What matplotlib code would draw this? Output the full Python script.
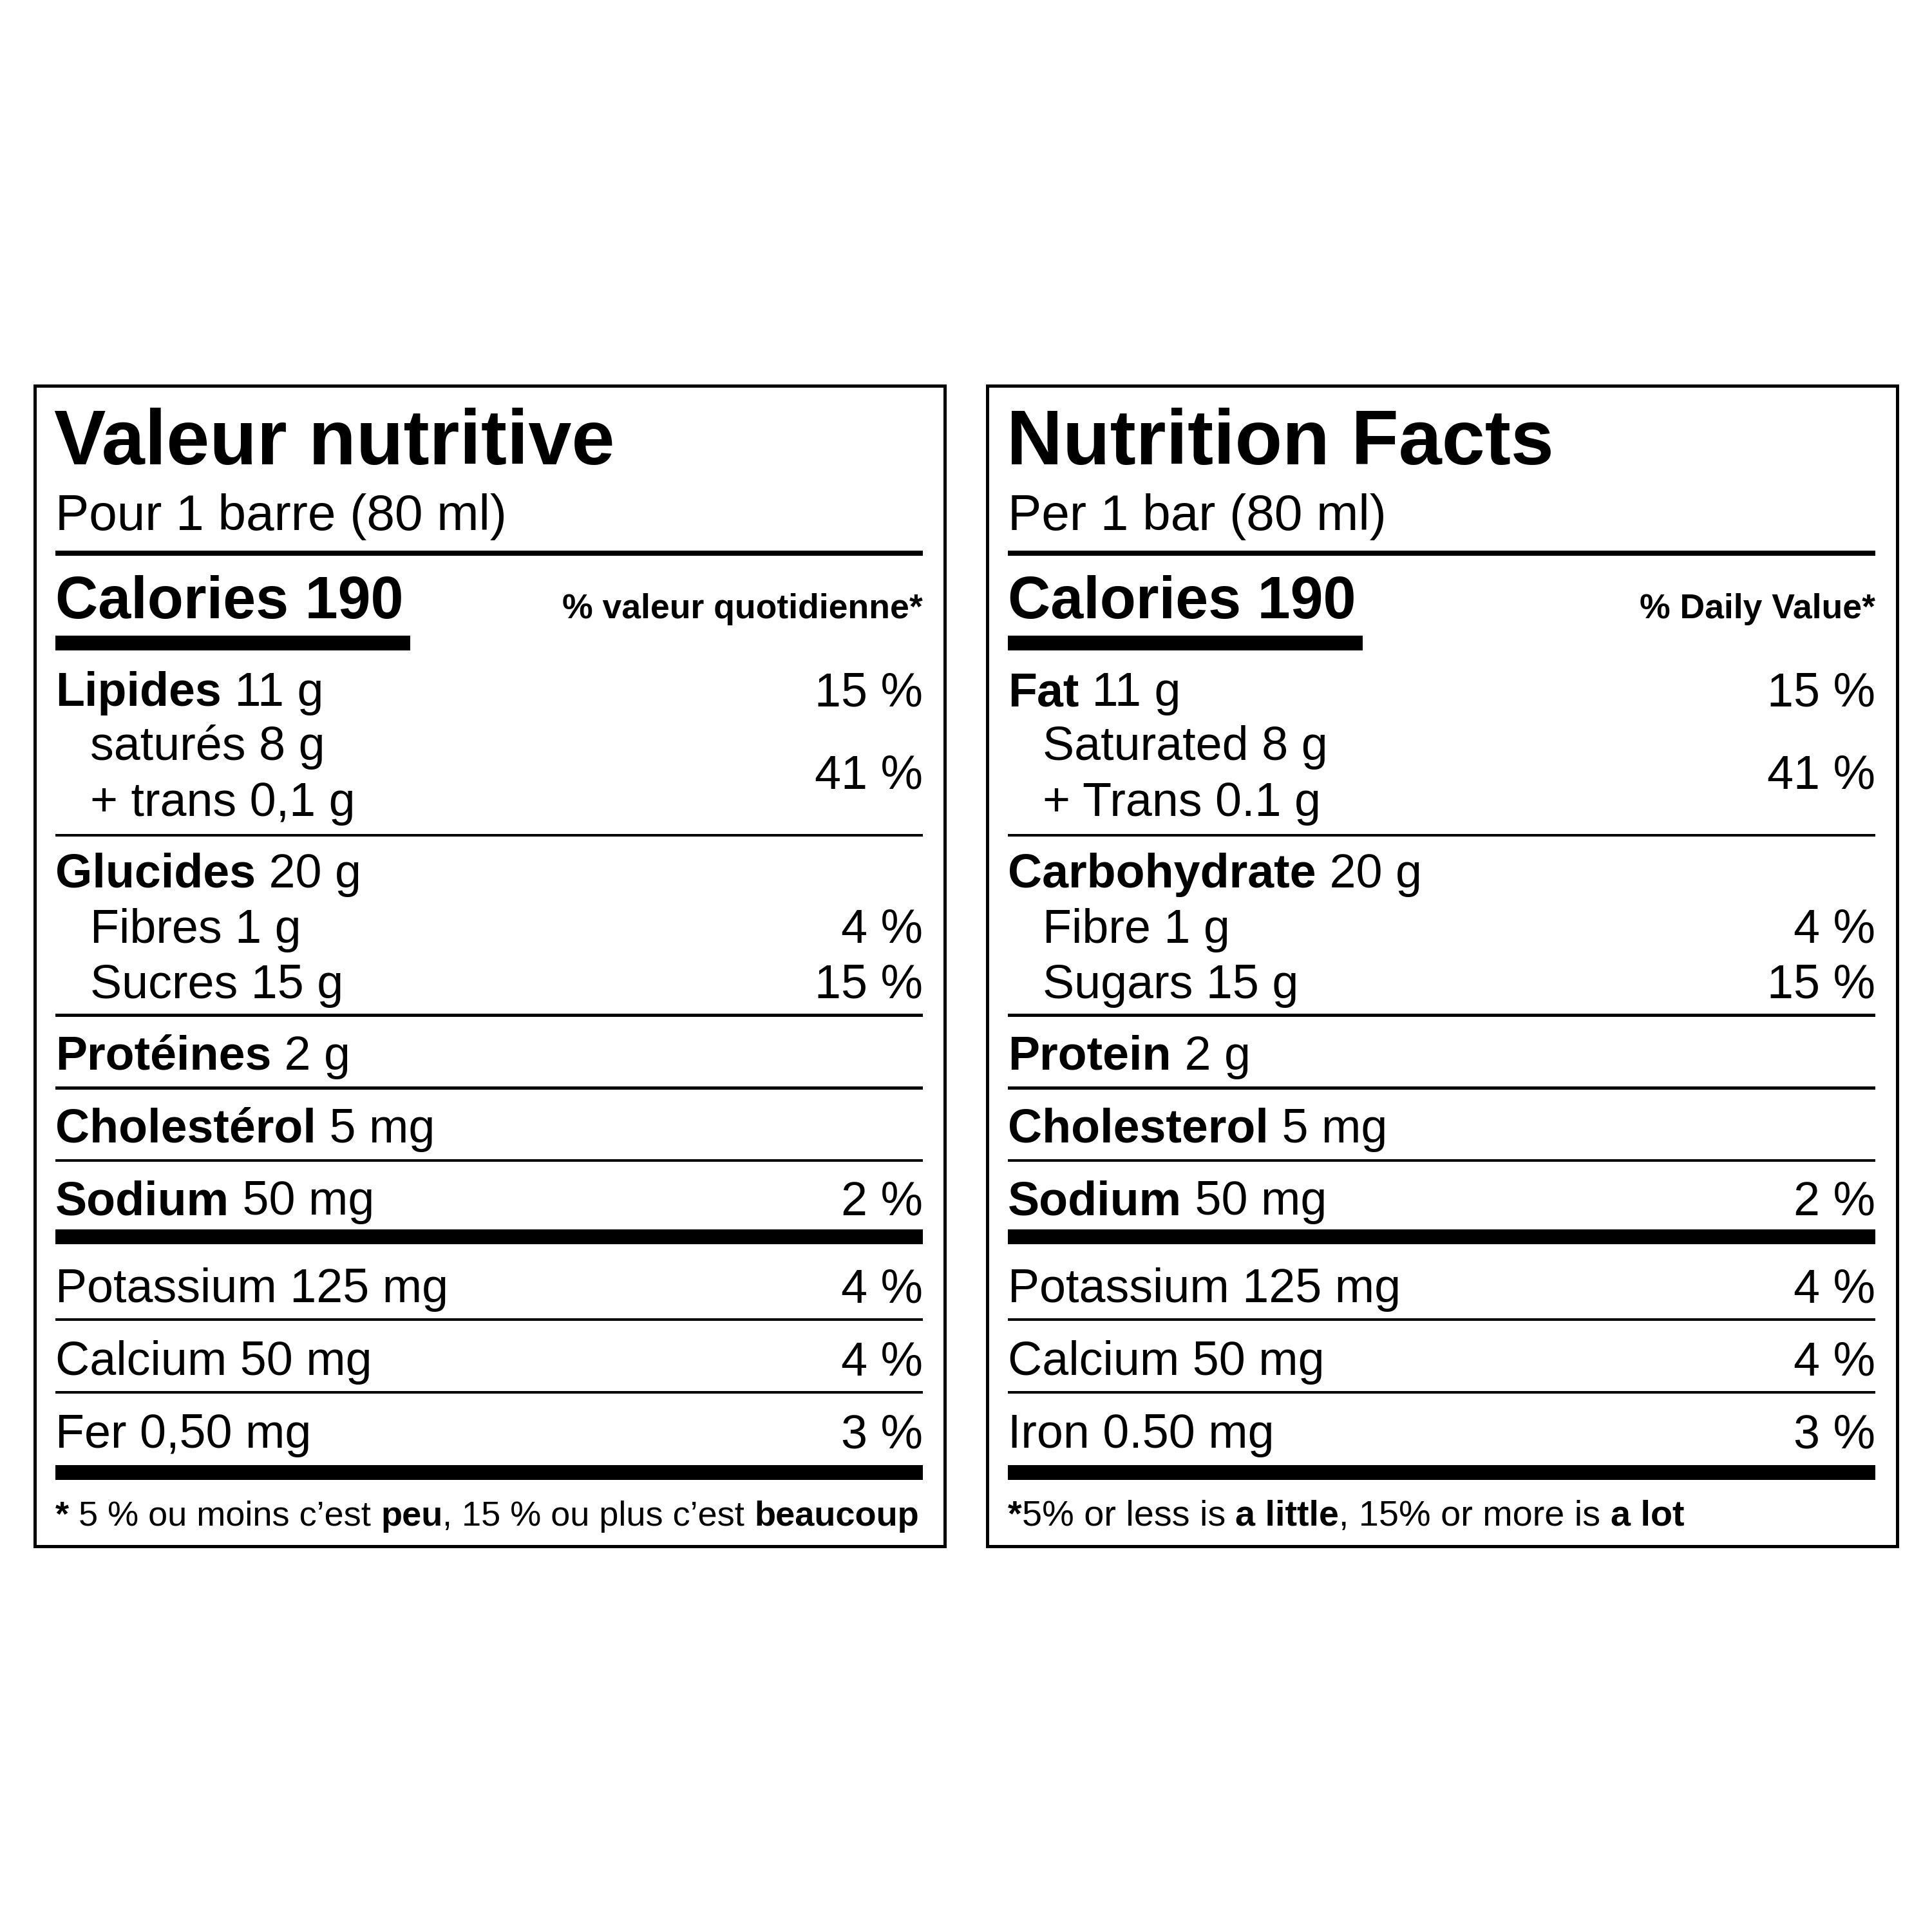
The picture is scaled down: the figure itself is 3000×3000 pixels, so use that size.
import matplotlib
matplotlib.use("Agg")
import matplotlib.pyplot as plt
from matplotlib.patches import Rectangle

titles = ["Valeur nutritive", "Nutrition Facts"]
servings = ["Pour 1 barre (80 ml)", "Per 1 bar (80 ml)"]
calories_label = ["Calories", "Calories"]
calories = 190
dv_header = ["% valeur quotidienne*", "% Daily Value*"]
fat = [("Lipides", "11 g"), ("Fat", "11 g")]
sat = [("saturés 8 g", "+ trans 0,1 g"), ("Saturated 8 g", "+ Trans 0.1 g")]
carb = [("Glucides", "20 g"), ("Carbohydrate", "20 g")]
fibre = ["Fibres 1 g", "Fibre 1 g"]
sugar = ["Sucres 15 g", "Sugars 15 g"]
protein = [("Protéines", "2 g"), ("Protein", "2 g")]
chol = [("Cholestérol", "5 mg"), ("Cholesterol", "5 mg")]
sodium = [("Sodium", "50 mg"), ("Sodium", "50 mg")]
minerals = [["Potassium 125 mg", "Calcium 50 mg", "Fer 0,50 mg"],
            ["Potassium 125 mg", "Calcium 50 mg", "Iron 0.50 mg"]]
pct_fat, pct_sat, pct_fibre, pct_sugar, pct_sodium = "15 %", "41 %", "4 %", "15 %", "2 %"
pct_minerals = ["4 %", "4 %", "3 %"]
footnotes = [[("*", True), (" 5 % ou moins c’est ", False), ("peu", True),
              (", 15 % ou plus c’est ", False), ("beaucoup", True)],
             [("*", True), ("5% or less is ", False), ("a little", True),
              (", 15% or more is ", False), ("a lot", True)]]

S = 1568
fig = plt.figure(figsize=(10, 10), dpi=300)
ax = fig.add_axes([0, 0, 1, 1])
ax.set_xlim(0, S); ax.set_ylim(S, 0); ax.axis("off")
fig.canvas.draw()
R = fig.canvas.get_renderer()
PT = 3000 / S / 300 * 72
FAM = ["Liberation Sans", "DejaVu Sans"]

def px2data(w):
    return w * S / 3000

def run(x, y, parts, size, fam=FAM):
    texts = []
    x0 = x
    for txt, bold in parts:
        t = ax.text(x, y, txt, fontsize=size * PT, fontweight="bold" if bold else "normal",
                    family=fam, va="baseline", ha="left")
        texts.append(t)
        x += px2data(t.get_window_extent(R).width)
    return x, texts

def right(x, y, txt, size, bold=False):
    ax.text(x, y, txt, fontsize=size * PT, fontweight="bold" if bold else "normal",
            family=FAM, va="baseline", ha="right")

def hline(x0, x1, y, h):
    ax.add_patch(Rectangle((x0, y - h / 2), x1 - x0, h, color="black", lw=0))

for i, off in enumerate([0, 773]):
    L, Rr = 45 + off, 749 + off
    ax.add_patch(Rectangle((28 + off, 313), 739, 942, fill=False, ec="black", lw=1.2))
    run(L - 1, 377, [(titles[i], True)], 63)
    run(L, 430, [(servings[i], False)], 41)
    hline(L, Rr, 449, 4)
    run(L, 502, [(calories_label[i] + " " + str(calories), True)], 48)
    right(Rr, 502, dv_header[i], 28, True)
    hline(L, 333 + off, 522, 12)
    fs = 38.5
    run(L, 573, [(fat[i][0], True), (" " + fat[i][1], False)], fs)
    right(Rr, 573, pct_fat, fs)
    run(L + 28, 617, [(sat[i][0], False)], fs)
    run(L + 28, 662, [(sat[i][1], False)], fs)
    right(Rr, 640, pct_sat, fs)
    hline(L, Rr, 678, 2.2)
    run(L, 720, [(carb[i][0], True), (" " + carb[i][1], False)], fs)
    run(L + 28, 765, [(fibre[i], False)], fs); right(Rr, 765, pct_fibre, fs)
    run(L + 28, 810, [(sugar[i], False)], fs); right(Rr, 810, pct_sugar, fs)
    hline(L, Rr, 824, 2.2)
    run(L, 868, [(protein[i][0], True), (" " + protein[i][1], False)], fs)
    hline(L, Rr, 883, 2.2)
    run(L, 927, [(chol[i][0], True), (" " + chol[i][1], False)], fs)
    hline(L, Rr, 942, 2.2)
    run(L, 986, [(sodium[i][0], True), (" " + sodium[i][1], False)], fs)
    right(Rr, 986, pct_sodium, fs)
    hline(L, Rr, 1004, 12)
    for k, (m, p) in enumerate(zip(minerals[i], pct_minerals)):
        y = 1057 + 59 * k
        run(L, y, [(m, False)], fs); right(Rr, y, p, fs)
        if k < 2:
            hline(L, Rr, y + 14, 2.2)
    hline(L, Rr, 1195, 12)
    # footnote: fit within the label width
    target = 702 if i == 0 else 550
    end, texts = run(L, 1238, footnotes[i], 30)
    w = end - L
    for t in texts:
        t.remove()
    run(L, 1238, footnotes[i], 30 * min(1.0, target / w))

fig.savefig("out.png", dpi=300, facecolor="white")
